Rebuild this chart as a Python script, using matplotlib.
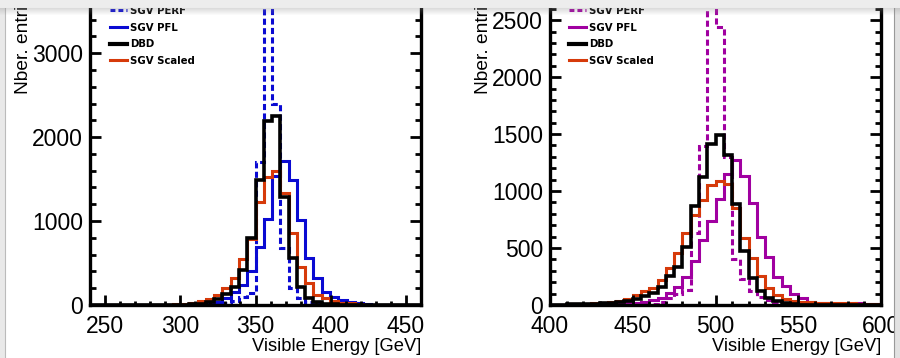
import numpy as np
import matplotlib.pyplot as plt
from matplotlib.lines import Line2D
from matplotlib.ticker import MultipleLocator

plt.rcParams['font.family'] = ['Liberation Sans', 'DejaVu Sans']

# 250 GeV sample: 40 bins, 240-460 GeV
edges_250 = np.linspace(240, 460, 41)
perf_250 = [0, 0, 0, 0, 0, 0, 0, 0, 0, 0,
            0, 0, 0, 0, 5, 10, 20, 50, 90, 145,
            1700, 4300, 2400, 680, 200, 80, 30, 10, 4, 0,
            0, 0, 0, 0, 0, 0, 0, 0, 0, 0]
pfl_250 = [0, 0, 0, 0, 0, 0, 0, 0, 0, 0,
           0, 3, 6, 10, 20, 40, 79, 159, 238, 400,
           694, 1020, 1536, 1714, 1488, 1008, 560, 317, 155, 90,
           58, 38, 20, 8, 3, 0, 0, 0, 0, 0]
dbd_250 = [0, 0, 0, 0, 0, 0, 0, 0, 0, 0,
           2, 4, 6, 15, 40, 75, 135, 215, 415, 795,
           1490, 2195, 2250, 1290, 556, 218, 88, 40, 15, 6,
           3, 1, 0, 0, 0, 0, 0, 0, 0, 0]
scaled_250 = [0, 0, 0, 0, 0, 0, 0, 0, 0, 3,
              6, 12, 25, 45, 67, 115, 200, 317, 544, 782,
              1230, 1525, 1600, 1337, 853, 456, 266, 125, 80, 42,
              28, 18, 10, 5, 2, 0, 0, 0, 0, 0]

# 500 GeV sample: 40 bins, 400-600 GeV
edges_500 = np.linspace(400, 600, 41)
perf_500 = [0, 0, 0, 0, 0, 0, 0, 0, 0, 0,
            0, 0, 10, 30, 59, 100, 135, 630, 1393, 4000,
            2440, 1300, 400, 230, 120, 73, 40, 15, 6, 2,
            0, 0, 0, 0, 0, 0, 0, 0, 0, 0]
pfl_500 = [1, 2, 2, 3, 4, 5, 6, 8, 10, 14,
           20, 30, 44, 64, 103, 161, 249, 387, 572, 740,
           930, 1146, 1275, 1129, 894, 595, 425, 249, 170, 97,
           59, 30, 20, 15, 12, 10, 12, 14, 10, 6]
dbd_500 = [3, 4, 5, 7, 9, 11, 14, 17, 22, 32,
           55, 80, 105, 162, 255, 337, 513, 868, 1126, 1415,
           1495, 1316, 890, 472, 237, 120, 65, 32, 15, 8,
           4, 3, 2, 1, 1, 0, 0, 0, 0, 0]
scaled_500 = [3, 4, 6, 8, 10, 14, 18, 22, 35, 50,
              85, 125, 150, 220, 328, 454, 630, 792, 920, 1055,
              1085, 1062, 855, 586, 410, 256, 150, 85, 50, 35,
              28, 22, 20, 18, 15, 18, 16, 10, 8, 5]

labels = ["SGV PERF", "SGV PFL", "DBD", "SGV Scaled"]
RED = "#d63a0a"
LW = 2.2
DASH = (0, (2.0, 1.1))

W, H = 900, 358
fig = plt.figure(figsize=(W / 100, H / 100), dpi=100)
fig.patch.set_facecolor("white")

# frame height is 319 px, bottom at 305 px; top runs past the figure edge
ax_h = 319 / H
ax_b = (H - 305) / H
ax1 = fig.add_axes([90 / W, ax_b, 331 / W, ax_h])
ax2 = fig.add_axes([550 / W, ax_b, 331 / W, ax_h])


def style_axes(ax, xlim, ylim, xmaj, ymaj, ymin):
    ax.set_xlim(*xlim)
    ax.set_ylim(*ylim)
    ax.xaxis.set_major_locator(MultipleLocator(xmaj))
    ax.xaxis.set_minor_locator(MultipleLocator(10))
    ax.yaxis.set_major_locator(MultipleLocator(ymaj))
    ax.yaxis.set_minor_locator(MultipleLocator(ymin))
    for s in ax.spines.values():
        s.set_linewidth(2.4)
    ax.tick_params(axis="both", which="both", direction="in", width=2,
                   labelsize=16.5, pad=5)
    ax.tick_params(axis="y", which="both", left=True, right=True)
    ax.tick_params(axis="y", which="major", length=8)
    ax.tick_params(axis="y", which="minor", length=4.5)
    ax.tick_params(axis="x", which="major", length=7, pad=7)
    ax.tick_params(axis="x", which="minor", length=3)
    ax.set_xlabel("Visible Energy [GeV]", fontsize=13.2, loc="right")
    ax.xaxis.set_label_coords(1.0, -0.105)
    ax.set_ylabel("Nber. entries", fontsize=13.8, loc="top")
    ax.yaxis.set_label_coords(-0.175, 1.0)


def draw(ax, edges, perf, pfl, dbd, scaled, col):
    ax.stairs(perf, edges, color=col, lw=LW, linestyle=DASH)
    ax.stairs(pfl, edges, color=col, lw=LW)
    ax.stairs(scaled, edges, color=RED, lw=LW)
    ax.stairs(dbd, edges, color="black", lw=LW + 0.4)
    handles = [Line2D([], [], color=col, lw=LW, linestyle=(0, (1.6, 1.0))),
               Line2D([], [], color=col, lw=LW),
               Line2D([], [], color="black", lw=LW + 0.8),
               Line2D([], [], color=RED, lw=LW)]
    return handles


h1 = draw(ax1, edges_250, perf_250, pfl_250, dbd_250, scaled_250, "#0a0ad2")
h2 = draw(ax2, edges_500, perf_500, pfl_500, dbd_500, scaled_500, "#a000a0")
style_axes(ax1, (240, 460), (0, 3800), 50, 1000, 200)
style_axes(ax2, (400, 600), (0, 2800), 50, 500, 100)

for ax, hs, x0 in [(ax1, h1, 110), (ax2, h2, 569)]:
    ax.legend(hs, labels, loc="upper left", bbox_to_anchor=(x0 / W, 1 - 6 / H),
              bbox_transform=fig.transFigure, frameon=False, borderpad=0,
              borderaxespad=0, handlelength=1.7, handletextpad=0.3,
              labelspacing=0.65,
              prop={"family": "DejaVu Sans", "weight": "bold", "size": 7.3})

# window bar with its drop shadow across the top
bar = fig.add_axes([0, 1 - 16 / H, 1, 16 / H], zorder=10)
rows = np.ones((16, 1, 4))
rows[:8, 0, :3] = 0.93
rows[:8, 0, 3] = 1.0
fade = np.linspace(0.30, 0.0, 8)
rows[8:, 0, :3] = 0.55
rows[8:, 0, 3] = fade
bar.imshow(rows, aspect="auto", extent=(0, 1, 0, 1), interpolation="bilinear")
bar.set_axis_off()

# light borders on the sides
left = fig.add_axes([0, 0, 5 / W, 1 - 8 / H], zorder=9)
left.set_facecolor("#e9e9e9")
left.set_xticks([])
left.set_yticks([])
for s in left.spines.values():
    s.set_visible(False)
left.spines["right"].set_visible(True)
left.spines["right"].set_color("#bbbbbb")

right = fig.add_axes([894 / W, 0, 6 / W, 1 - 8 / H], zorder=9)
right.set_facecolor("#e2e2e2")
right.set_xticks([])
right.set_yticks([])
for s in right.spines.values():
    s.set_visible(False)
right.spines["left"].set_visible(True)
right.spines["left"].set_color("#999999")

fig.savefig("out.png", dpi=100, facecolor="white")
